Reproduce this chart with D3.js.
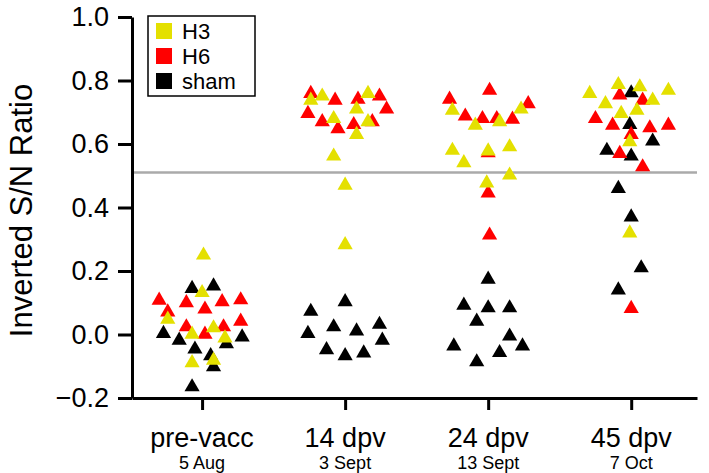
<!DOCTYPE html>
<html><head><meta charset="utf-8">
<script src="https://cdn.jsdelivr.net/npm/d3@7"></script>
<style>
html,body{margin:0;padding:0;background:#fff;}
text{font-family:"Liberation Sans",Arial,Helvetica,sans-serif;}
</style></head>
<body><svg id="chart" width="709" height="473"></svg>
<script>
// ---- data ----
const categories = ["pre-vacc","14 dpv","24 dpv","45 dpv"];
const dates = ["5 Aug","3 Sept","13 Sept","7 Oct"];
const yTicks = [-0.2,0,0.2,0.4,0.6,0.8,1.0];
const cutoff = 0.51;
const seriesNames = ["H3","H6","sham"];
const seriesColors = ["#e4e000","#ff0000","#000000"];
// each point: [timepoint index, horizontal jitter (category units), value]
const h3 = [
 [0,0.01,0.256],[0,0.00,0.138],[0,-0.24,0.054],[0,0.08,0.027],[0,-0.07,0.007],[0,0.16,-0.005],[0,-0.07,-0.083],[0,0.08,-0.075],
 [1,-0.24,0.744],[1,-0.16,0.757],[1,0.16,0.765],[1,0.08,0.716],[1,-0.08,0.686],[1,0.16,0.676],[1,0.08,0.636],[1,-0.08,0.568],[1,0.00,0.476],[1,0.00,0.289],
 [2,-0.25,0.712],[2,0.23,0.716],[2,-0.09,0.665],[2,0.08,0.676],[2,-0.25,0.586],[2,0.00,0.584],[2,0.15,0.597],[2,-0.17,0.547],[2,0.15,0.508],[2,-0.01,0.483],
 [3,-0.09,0.793],[3,0.06,0.786],[3,0.26,0.775],[3,-0.29,0.765],[3,0.15,0.744],[3,-0.18,0.733],[3,-0.07,0.702],[3,0.04,0.712],[3,-0.01,0.613],[3,-0.01,0.326]
];
const h6 = [
 [0,-0.30,0.114],[0,-0.11,0.106],[0,0.14,0.109],[0,0.27,0.115],[0,0.02,0.086],[0,-0.24,0.077],[0,0.27,0.048],[0,-0.11,0.030],[0,0.15,0.030],[0,0.02,0.007],
 [1,-0.24,0.765],[1,-0.07,0.744],[1,0.09,0.747],[1,0.24,0.757],[1,0.29,0.716],[1,-0.26,0.702],[1,-0.16,0.676],[1,-0.05,0.654],[1,0.06,0.667],[1,0.19,0.676],
 [2,0.01,0.775],[2,-0.27,0.747],[2,0.28,0.733],[2,-0.16,0.694],[2,-0.04,0.686],[2,0.06,0.686],[2,0.17,0.684],[2,0.00,0.578],[2,0.00,0.452],[2,0.01,0.319],
 [3,-0.08,0.760],[3,0.08,0.744],[3,-0.25,0.686],[3,-0.13,0.665],[3,0.13,0.657],[3,0.26,0.665],[3,0.00,0.636],[3,-0.08,0.576],[3,0.08,0.534],[3,0.00,0.088]
];
const sham = [
 [0,-0.07,0.151],[0,0.08,0.159],[0,-0.27,0.009],[0,0.28,-0.002],[0,-0.16,-0.012],[0,0.17,-0.023],[0,-0.05,-0.040],[0,0.06,-0.061],[0,0.08,-0.096],[0,-0.07,-0.159],
 [1,0.00,0.109],[1,-0.24,0.079],[1,-0.08,0.030],[1,0.24,0.038],[1,-0.26,0.009],[1,0.08,0.017],[1,0.26,-0.012],[1,-0.13,-0.042],[1,0.13,-0.052],[1,0.00,-0.061],
 [2,0.00,0.180],[2,-0.17,0.098],[2,0.00,0.090],[2,0.15,0.090],[2,-0.08,0.048],[2,0.15,0.001],[2,-0.24,-0.030],[2,0.24,-0.030],[2,0.08,-0.051],[2,-0.08,-0.080],
 [3,0.00,0.767],[3,-0.01,0.667],[3,0.15,0.615],[3,-0.17,0.586],[3,0.00,0.568],[3,-0.09,0.466],[3,0.00,0.376],[3,0.07,0.216],[3,-0.09,0.146]
];

(function () {
const svg = d3.select("#chart");
const mLeft = 132, mRight = 697, mTop = 17, mBottom = 398;
const x = d3.scaleLinear().domain([-0.49, 3.46]).range([mLeft, mRight]);
const y = d3.scaleLinear().domain([-0.2, 1.0]).range([mBottom, mTop]);

// cutoff line
svg.append("line")
  .attr("x1", x(-0.49)).attr("x2", x(3.46))
  .attr("y1", y(cutoff)).attr("y2", y(cutoff))
  .attr("stroke", "#aaaaaa").attr("stroke-width", 2.5);

// points: sham, H6, H3 (H3 on top)
const tri = d3.symbol().type(d3.symbolTriangle).size(100);
const layers = [[sham, 2], [h6, 1], [h3, 0]];
layers.forEach(([data, si]) => {
  svg.append("g").selectAll("path").data(data).enter().append("path")
    .attr("d", tri)
    .attr("fill", seriesColors[si])
    .attr("transform", d => `translate(${x(d[0] + d[1])},${y(d[2]) + 2})`);
});

// y axis
const yAxis = svg.append("g").attr("transform", `translate(${mLeft},0)`)
  .call(d3.axisLeft(y).tickValues(yTicks).tickFormat(d3.format(".1f")).tickSize(14).tickSizeOuter(0).tickPadding(9));
yAxis.select(".domain").attr("stroke-width", 3).attr("stroke", "#000");
yAxis.selectAll(".tick line").attr("stroke-width", 3).attr("stroke", "#000");
yAxis.selectAll(".tick text").attr("font-size", 27).attr("fill", "#000")
  .attr("font-family", '"Liberation Sans",Arial,sans-serif');

// x axis
const xAxis = svg.append("g").attr("transform", `translate(0,${mBottom})`)
  .call(d3.axisBottom(x).tickValues([0,1,2,3]).tickFormat("").tickSize(12).tickSizeOuter(0));
xAxis.select(".domain").attr("stroke-width", 3).attr("stroke", "#000");
xAxis.selectAll(".tick line").attr("stroke-width", 3).attr("stroke", "#000");
categories.forEach((c, i) => {
  svg.append("text").attr("x", x(i)).attr("y", 447).attr("text-anchor", "middle")
    .attr("font-size", 27).text(c);
  svg.append("text").attr("x", x(i)).attr("y", 469).attr("text-anchor", "middle")
    .attr("font-size", 18).text(dates[i]);
});

// y label
svg.append("text")
  .attr("transform", `translate(32,${(mTop + mBottom) / 2 + 3}) rotate(-90)`)
  .attr("text-anchor", "middle").attr("font-size", 31)
  .text("Inverted S/N Ratio");

// legend
const lg = svg.append("g");
lg.append("rect").attr("x", 148).attr("y", 16).attr("width", 107).attr("height", 80)
  .attr("fill", "#fff").attr("stroke", "#000").attr("stroke-width", 1.5);
seriesNames.forEach((n, i) => {
  lg.append("rect").attr("x", 156).attr("y", 23 + i * 25).attr("width", 16).attr("height", 16)
    .attr("fill", seriesColors[i]);
  lg.append("text").attr("x", 182).attr("y", 39 + i * 25).attr("font-size", 22).text(n);
});
})();
</script></body></html>
